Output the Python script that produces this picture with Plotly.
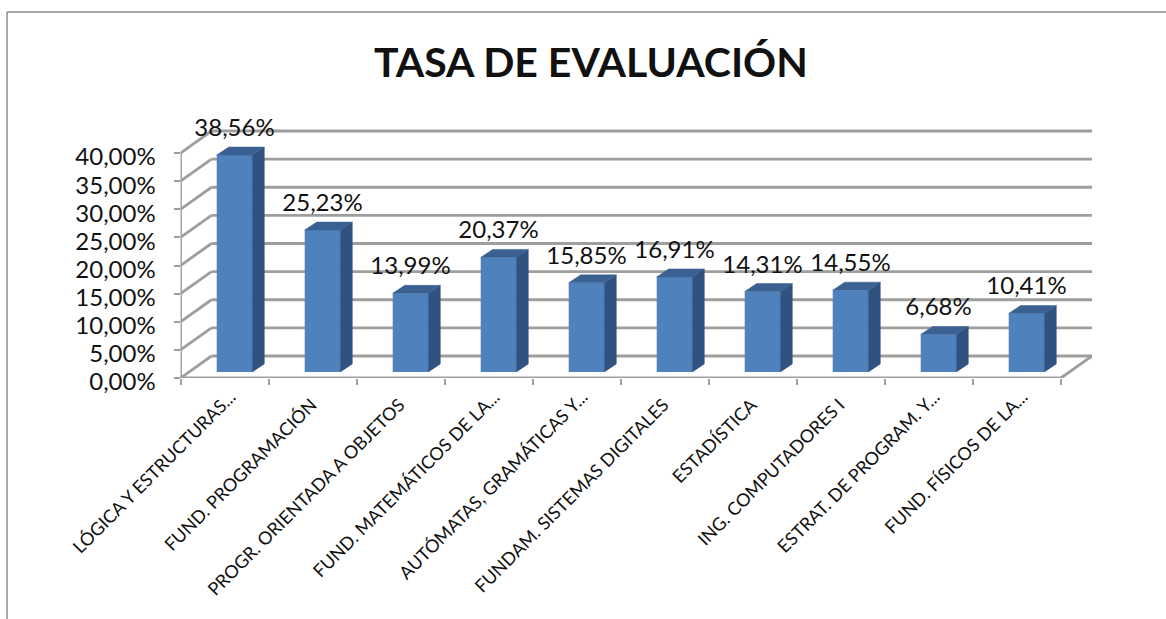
import plotly.graph_objects as go

categories = ["LÓGICA Y ESTRUCTURAS...", "FUND. PROGRAMACIÓN", "PROGR. ORIENTADA A OBJETOS",
              "FUND. MATEMÁTICOS DE LA...", "AUTÓMATAS, GRAMÁTICAS Y...", "FUNDAM. SISTEMAS DIGITALES",
              "ESTADÍSTICA", "ING. COMPUTADORES I", "ESTRAT. DE PROGRAM. Y...", "FUND. FÍSICOS DE LA..."]
values = [38.56, 25.23, 13.99, 20.37, 15.85, 16.91, 14.31, 14.55, 6.68, 10.41]
y_ticks = [0, 5, 10, 15, 20, 25, 30, 35, 40]

W, H = 1166, 619
CAT_PX, PCT_PX = 88.0, 5.625
X_LEFT, X_RIGHT, Y_BASE, Y_TOP = 180.5, 1092.0, 378.0, 100.0
x_range = [-0.5, -0.5 + (X_RIGHT - X_LEFT) / CAT_PX]
y_range = [0, (Y_BASE - Y_TOP) / PCT_PX]

# 3-D projection offsets, in axis units
WALL_DX, WALL_DY = 31 / CAT_PX, 22 / PCT_PX
BAR_DX, BAR_DY = 10 / CAT_PX, 6 / PCT_PX
SIDE_DX, SIDE_DY = 12 / CAT_PX, 8 / PCT_PX
BAR_W = 35.6 / CAT_PX
LABEL_DY = 25 / PCT_PX

FONT = "Lato"
GRID = "#9e9e9e"

xs = [i + BAR_DX for i in range(len(values))]

side_x, side_y, top_x, top_y = [], [], [], []
for cx, v in zip(xs, values):
    r, l = cx + BAR_W / 2, cx - BAR_W / 2
    b, t = BAR_DY, v + BAR_DY
    side_x += [r, r + SIDE_DX, r + SIDE_DX, r, r, None]
    side_y += [b, b + SIDE_DY, t + SIDE_DY, t, b, None]
    top_x += [l, l + SIDE_DX, r + SIDE_DX, r, l, None]
    top_y += [t, t + SIDE_DY, t + SIDE_DY, t, t, None]

fig = go.Figure()
fig.add_trace(go.Bar(x=xs, y=values, base=BAR_DY, width=BAR_W,
                     marker=dict(color="#4f81bd", line=dict(width=0)), hoverinfo="skip"))
fig.add_trace(go.Scatter(x=side_x, y=side_y, mode="lines", fill="toself", fillcolor="#2f5280",
                         line=dict(color="#2f5280", width=0.5), hoverinfo="skip"))
fig.add_trace(go.Scatter(x=top_x, y=top_y, mode="lines", fill="toself", fillcolor="#3a6191",
                         line=dict(color="#3a6191", width=0.5), hoverinfo="skip"))
fig.add_trace(go.Scatter(x=xs, y=[v + BAR_DY + LABEL_DY for v in values], mode="text",
                         text=[f"{v:.2f}%".replace(".", ",") for v in values],
                         textposition="middle center", cliponaxis=False,
                         textfont=dict(family=FONT, size=24, color="#111111"), hoverinfo="skip"))
# invisible carrier so the second category axis (truncated labels) is drawn
fig.add_trace(go.Scatter(x=xs, y=values, xaxis="x2", mode="markers",
                         marker=dict(opacity=0), hoverinfo="skip"))

shapes = []
def seg(x0, y0, x1, y1, w=2.8):
    shapes.append(dict(type="line", xref="x", yref="y", x0=x0, y0=y0, x1=x1, y1=y1,
                       layer="below", line=dict(color=GRID, width=w)))

for t in y_ticks:
    seg(x_range[0] + WALL_DX, t + WALL_DY, x_range[1], t + WALL_DY)   # back wall
    seg(x_range[0], t, x_range[0] + WALL_DX, t + WALL_DY)             # side wall
seg(x_range[0], 0, x_range[0], 40)                                    # front vertical
seg(x_range[0], 0, x_range[1] - WALL_DX, 0)                           # floor front
seg(x_range[1] - WALL_DX, 0, x_range[1], WALL_DY)                     # floor right

# chart frame
frame = [(7, H), (7, 12), (W, 12)]
for (a, b), (c, d) in zip(frame, frame[1:]):
    shapes.append(dict(type="line", xref="paper", yref="paper", x0=a / W, y0=1 - b / H,
                       x1=c / W, y1=1 - d / H, line=dict(color="#8c8c8c", width=1.5)))

full = [i for i, c in enumerate(categories) if not c.endswith("...")]
cut = [i for i, c in enumerate(categories) if c.endswith("...")]

fig.update_layout(
    width=W, height=H, margin=dict(l=0, r=0, t=0, b=0), showlegend=False,
    paper_bgcolor="white", plot_bgcolor="rgba(0,0,0,0)", shapes=shapes,
    xaxis=dict(domain=[X_LEFT / W, X_RIGHT / W], range=x_range, showgrid=False, zeroline=False,
               automargin=False,
               showline=False, tickmode="array", tickvals=full,
               ticktext=[categories[i] for i in full], tickangle=-45, ticks="", ticklen=0,
               ticklabelstandoff=12, ticklabelshift=-1,
               tickfont=dict(family=FONT, size=18, color="#111111"),
               minor=dict(tick0=-0.5, dtick=1, ticks="outside", ticklen=6, tickcolor=GRID, tickwidth=1.5)),
    xaxis2=dict(domain=[X_LEFT / W, X_RIGHT / W], range=x_range, showgrid=False, zeroline=False,
                automargin=False, overlaying="x", anchor="y", side="bottom",
                showline=False, tickmode="array", tickvals=cut,
                ticktext=[categories[i] for i in cut], tickangle=-45, ticks="", ticklen=0,
                ticklabelstandoff=4, ticklabelshift=6,
                tickfont=dict(family=FONT, size=18, color="#111111")),
    yaxis=dict(domain=[1 - Y_BASE / H, 1 - Y_TOP / H], range=y_range, showgrid=False, zeroline=False,
               automargin=False,
               showline=False, tickmode="array", tickvals=y_ticks,
               ticktext=[f"{t:.2f}%".replace(".", ",") for t in y_ticks],
               ticks="outside", ticklen=6, tickcolor=GRID, tickwidth=2,
               ticklabelstandoff=13, ticklabelshift=4,
               tickfont=dict(family=FONT, size=24, color="#111111")),
    annotations=[dict(text="<b>TASA DE EVALUACIÓN</b>", xref="paper", yref="paper",
                      x=591 / W, y=1 - 62 / H, xanchor="center", yanchor="middle", showarrow=False,
                      font=dict(family=FONT, size=41, color="#111111"))],
)
fig.write_html("out.html", config=dict(displayModeBar=False),
               post_script="document.body.style.margin='0';")
